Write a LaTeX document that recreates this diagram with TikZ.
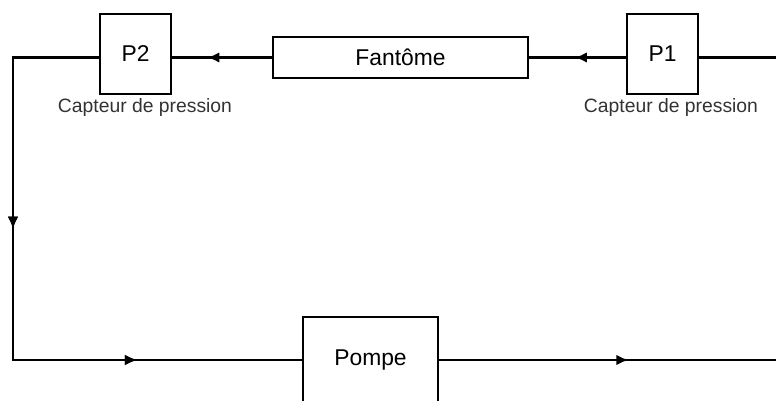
\documentclass[tikz,border=0pt]{standalone}
\usepackage{fontspec}
\setmainfont{Liberation Sans}
\usetikzlibrary{arrows.meta,decorations.markings}
\tikzset{
  capteur/.style={draw, line width=1.5pt, minimum width=1.42cm, minimum height=1.6cm, font=\fontsize{13}{15}\selectfont},
  conduit/.style={line width=1.6pt},
  flowat/.style={postaction={decorate}, decoration={markings, mark=at position #1 with {\arrow{Latex[length=7pt,width=6pt]}}}},
  legende/.style={text=black!80, font=\fontsize{11}{13}\selectfont}
}
\begin{document}
\begin{tikzpicture}[x=0.02cm, y=-0.02cm]
            \clip (0,0) rectangle (776,401);
            \path [use as bounding box] (0,0) rectangle (776,401);
            % capteurs et fantome
            \node (p2) [capteur] at (135.5,54) {P2};
            \node (p1) [capteur] at (662.5,54) {P1};
            \node (fan) [draw, line width=1.5pt, minimum width=5.1cm, minimum height=0.82cm, font=\fontsize{13}{15}\selectfont] at (400.5,57.5) {Fant\^ome};
            \node (pompe) [draw, line width=1.5pt, minimum width=2.7cm, minimum height=1.72cm, font=\fontsize{13}{15}\selectfont] at (370.5,360) {Pompe};
            \path (145,108) node [legende] (cap2) {Capteur de pression};
            \path (671,108) node [legende] (cap1) {Capteur de pression};
            % coins du circuit
            \coordinate (hg) at (13,57.5);
            \coordinate (bg) at (13,360);
            \coordinate (hd) at (790,57.5);
            \coordinate (bd) at (790,360);
            % circuit
            \draw [conduit, flowat=0.53] (p1.west |- fan) -- (fan.east);
            \draw [conduit, flowat=0.65] (fan.west) -- (p2.east |- fan);
            \draw [conduit, flowat=0.38, flowat=0.757] (p2.west |- fan) -- (hg) -- (bg) -- (pompe.west);
            \draw [conduit, flowat=0.54] (pompe.east) -- (bd);
            \draw [conduit] (p1.east |- fan) -- (hd);
        \end{tikzpicture}
\end{document}
